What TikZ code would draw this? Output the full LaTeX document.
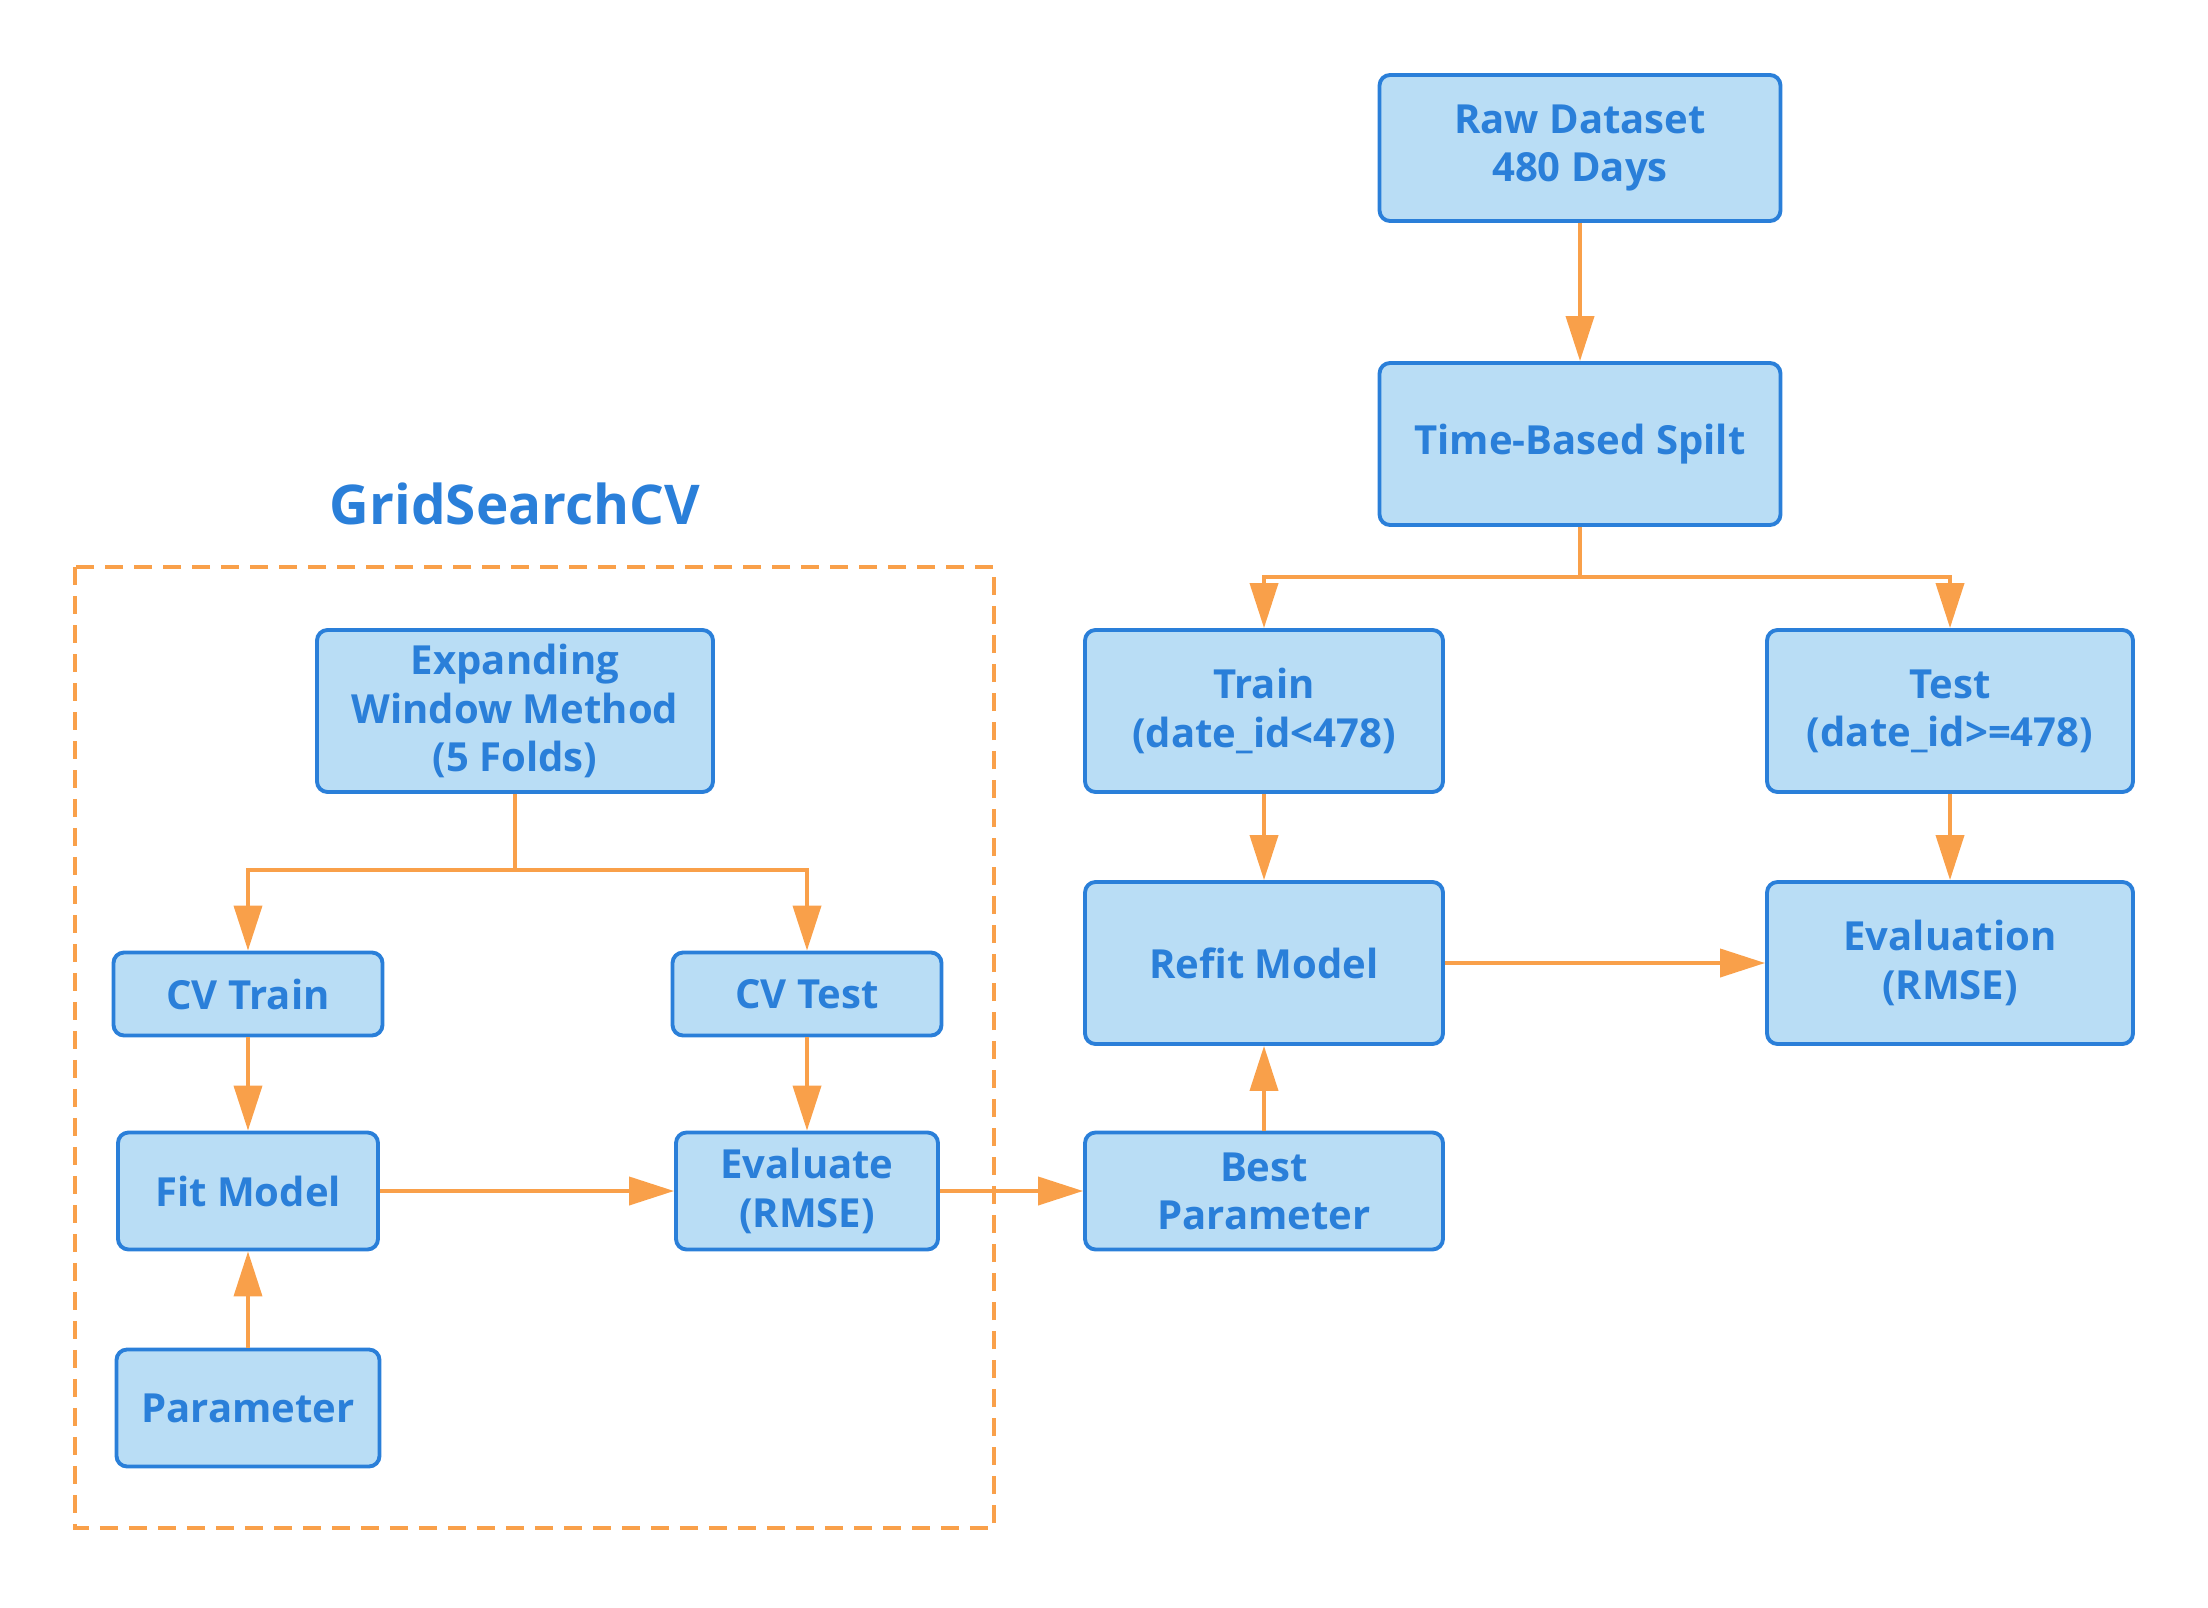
\documentclass[tikz,border=0pt]{standalone}
\usepackage{fontspec}
\setmainfont{Open Sans}
\usepackage{tikz}
\usetikzlibrary{arrows.meta,positioning,calc}

\definecolor{boxfill}{HTML}{B9DDF5}
\definecolor{boxline}{HTML}{2A7FD9}
\definecolor{flow}{HTML}{F9A04A}

\begin{document}
\begin{tikzpicture}[
    >={Triangle[length=0.45cm,width=0.28cm]},
    box/.style={
        rectangle, draw=boxline, line width=1.1pt, rounded corners=3pt,
        fill=boxfill, text=boxline, align=center,
        font=\fontsize{11.4}{13.7}\selectfont\bfseries
    },
    arr/.style={->, line width=1.1pt, color=flow},
    title/.style={text=boxline, font=\fontsize{15.6}{19}\selectfont\bfseries}
]
    \useasboundingbox (0,0) rectangle (22.08,-16.08);

    % right side: main pipeline
    \node[box, minimum width=4.01cm, minimum height=1.46cm] (raw) at (15.80,-1.48) {Raw Dataset\\480 Days};
    \node[box, minimum width=4.01cm, minimum height=1.62cm] (split) at (15.80,-4.44) {Time-Based Spilt};
    \node[box, minimum width=3.58cm, minimum height=1.62cm] (train) at (12.64,-7.11) {Train\\(date\_id<478)};
    \node[box, minimum width=3.66cm, minimum height=1.62cm] (test) at (19.50,-7.11) {Test\\(date\_id>=478)};
    \node[box, minimum width=3.58cm, minimum height=1.62cm] (refit) at (12.64,-9.63) {Refit Model};
    \node[box, minimum width=3.66cm, minimum height=1.62cm] (evaluation) at (19.50,-9.63) {Evaluation\\(RMSE)};
    \node[box, minimum width=3.58cm, minimum height=1.17cm] (best) at (12.64,-11.91) {Best\\Parameter};

    % left side: grid search
    \node[title] (gridtitle) at (5.15,-5.04) {GridSearchCV};
    \draw[flow, line width=1.1pt, dash pattern=on 0.18cm off 0.11cm] (0.75,-5.67) rectangle (9.94,-15.28);
    \node[box, minimum width=3.96cm, minimum height=1.62cm] (window) at (5.15,-7.11) {Expanding\\Window Method\\(5 Folds)};
    \node[box, minimum width=2.69cm, minimum height=0.83cm] (cvtrain) at (2.48,-9.94) {CV Train};
    \node[box, minimum width=2.69cm, minimum height=0.83cm] (cvtest) at (8.07,-9.94) {CV Test};
    \node[box, minimum width=2.60cm, minimum height=1.17cm] (fit) at (2.48,-11.91) {Fit Model};
    \node[box, minimum width=2.62cm, minimum height=1.17cm] (evaluate) at (8.07,-11.91) {Evaluate\\(RMSE)};
    \node[box, minimum width=2.63cm, minimum height=1.17cm] (param) at (2.48,-14.08) {Parameter};

    \coordinate (splitfork) at (15.80,-5.77);
    \coordinate (windowfork) at (5.15,-8.70);

    \draw[arr] (raw) -- (split);
    \draw[arr] (split) -- (splitfork) -| (train);
    \draw[arr] (splitfork) -| (test);
    \draw[arr] (train) -- (refit);
    \draw[arr] (test) -- (evaluation);
    \draw[arr] (refit) -- (evaluation);
    \draw[arr] (best) -- (refit);

    \draw[arr] (window) -- (windowfork) -| (cvtrain);
    \draw[arr] (windowfork) -| (cvtest);
    \draw[arr] (cvtrain) -- (fit);
    \draw[arr] (cvtest) -- (evaluate);
    \draw[arr] (param) -- (fit);
    \draw[arr] (fit) -- (evaluate);
    \draw[arr] (evaluate) -- (best);
\end{tikzpicture}
\end{document}
